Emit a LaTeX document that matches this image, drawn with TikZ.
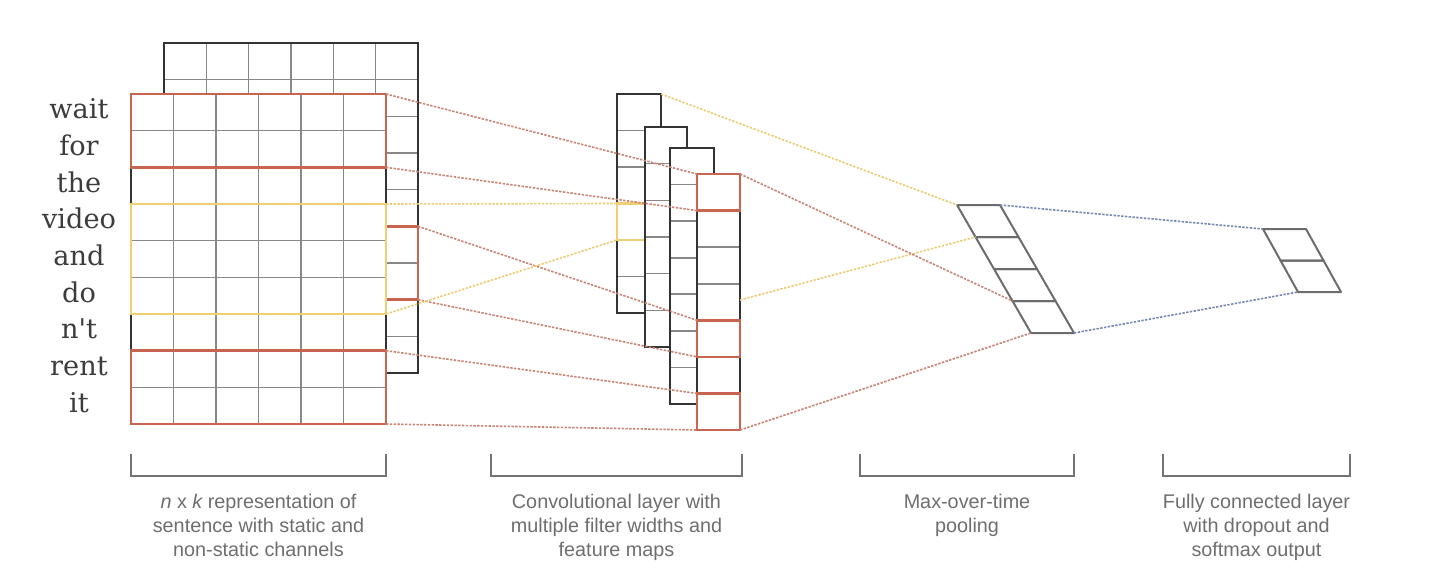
\documentclass[tikz,border=0pt]{standalone}
\usepackage{fontspec}
\setmainfont{Liberation Sans}
\newfontfamily\wordfont{DejaVu Serif}
\definecolor{gridgray}{HTML}{888888}
\definecolor{framedark}{HTML}{333333}
\definecolor{boxred}{HTML}{C8654E}
\definecolor{boxyellow}{HTML}{F0CE72}
\definecolor{linkred}{HTML}{C98574}
\definecolor{linkyellow}{HTML}{EDCC78}
\definecolor{linkblue}{HTML}{7587B2}
\definecolor{labelgray}{HTML}{6E6E6E}
\definecolor{wordgray}{HTML}{3C3C3C}
\begin{document}
\begin{tikzpicture}[x=0.5pt,y=-0.5pt,
  gridline/.style={draw=gridgray,line width=0.8pt},
  frame/.style={draw=framedark,line width=1pt},
  redbox/.style={draw=boxred,line width=1.3pt},
  yellowbox/.style={draw=boxyellow,line width=1.3pt},
  link/.style={line width=0.8pt,dash pattern=on 1.2pt off 0.7pt},
  redlink/.style={link,draw=linkred},
  yellowlink/.style={link,draw=linkyellow},
  bluelink/.style={link,draw=linkblue},
  poolbox/.style={draw=gray!85!black,line width=1pt,line join=round},
  bracket/.style={draw=gray!90!black,line width=1pt},
  caption/.style={text=labelgray,align=center,anchor=north,inner sep=0pt,
    font=\fontsize{9.9}{11.9}\selectfont},
  word/.style={text=wordgray,anchor=base,inner sep=0pt,
    font=\wordfont\fontsize{13.6}{14}\selectfont}]
\useasboundingbox (0,0) rectangle (1446,578);

% ---- static channel (back sheet) ----
\fill[white] (164,43) rectangle (418,373);
\foreach \i in {1,...,8} \draw[gridline] (164,{43+\i*36.667}) -- (418,{43+\i*36.667});
\foreach \j in {1,...,5} \draw[gridline] ({164+\j*42.33},43) -- ({164+\j*42.33},373);
\draw[frame] (164,43) rectangle (418,373);
\draw[redbox] (386,226.33) rectangle (418,299.67);

% ---- non-static channel (front sheet) ----
\fill[white] (131,94) rectangle (386,424);
\foreach \i in {1,...,8} \draw[gridline] (131,{94+\i*36.667}) -- (386,{94+\i*36.667});
\foreach \j in {1,...,5} \draw[gridline] ({131+\j*42.5},94) -- ({131+\j*42.5},424);
\draw[frame] (131,94) rectangle (386,424);
\draw[redbox] (131,94) rectangle (386,167.33);
\draw[yellowbox] (131,204) rectangle (386,314);
\draw[redbox] (131,350.67) rectangle (386,424);

% words of the sentence
\foreach \w [count=\r from 0] in {wait,for,the,video,and,do,n't,rent,it}
  \node[word] (w\r) at (79,{94+(\r+0.5)*36.667+6.5}) {\w};

% ---- feature maps ----
% map 1
\fill[white] (617,94) rectangle (661,313);
\foreach \i in {1,...,5} \draw[gridline] (617,{94+\i*36.5}) -- (661,{94+\i*36.5});
\draw[frame] (617,94) rectangle (661,313);
\draw[yellowbox] (617,203.5) rectangle (661,240);
% map 2
\fill[white] (645,127) rectangle (687,347);
\foreach \i in {1,...,5} \draw[gridline] (645,{127+\i*36.667}) -- (687,{127+\i*36.667});
\draw[frame] (645,127) rectangle (687,347);
% map 3
\fill[white] (670,148) rectangle (714,404);
\foreach \i in {1,...,6} \draw[gridline] (670,{148+\i*36.57}) -- (714,{148+\i*36.57});
\draw[frame] (670,148) rectangle (714,404);
% map 4
\fill[white] (697,174) rectangle (740,430);
\foreach \i in {1,...,6} \draw[gridline] (697,{174+\i*36.57}) -- (740,{174+\i*36.57});
\draw[frame] (697,174) rectangle (740,430);
\draw[redbox] (697,174) rectangle (740,210.57);
\draw[redbox] (697,320.29) rectangle (740,356.86);
\draw[redbox] (697,393.43) rectangle (740,430);

% ---- max-over-time pooling ----
\foreach \k in {0,...,3}
  \draw[poolbox] ({957+18.5*\k},{205+32*\k}) -- ({1000+18.5*\k},{205+32*\k})
    -- ({1018.5+18.5*\k},{237+32*\k}) -- ({975.5+18.5*\k},{237+32*\k}) -- cycle;

% ---- fully connected output ----
\foreach \k in {0,1}
  \draw[poolbox] ({1263+17.5*\k},{229+31.5*\k}) -- ({1306+17.5*\k},{229+31.5*\k})
    -- ({1323.5+17.5*\k},{260.5+31.5*\k}) -- ({1280.5+17.5*\k},{260.5+31.5*\k}) -- cycle;

% ---- connector end points ----
\coordinate (fa) at (386,94);     \coordinate (fb) at (386,167.33);
\coordinate (fc) at (386,350.67); \coordinate (fd) at (386,424);
\coordinate (fy1) at (386,204);   \coordinate (fy2) at (386,314);
\coordinate (ba) at (418,226.33); \coordinate (bb) at (418,299.67);
\coordinate (m1a) at (617,203.5); \coordinate (m1b) at (617,240);
\coordinate (m1t) at (661,94);
\coordinate (m4a) at (697,174);   \coordinate (m4b) at (697,210.57);
\coordinate (m4c) at (697,320.29);\coordinate (m4d) at (697,356.86);
\coordinate (m4e) at (697,393.43);\coordinate (m4f) at (697,430);
\coordinate (m4r1) at (740,174);  \coordinate (m4r2) at (740,430);
\coordinate (m4y) at (740,300);
\coordinate (p1) at (957,205);    \coordinate (p2) at (975.5,237);
\coordinate (p4) at (1012.5,301); \coordinate (p5) at (1031,333);
\coordinate (pr1) at (1000,205);  \coordinate (pr5) at (1074,333);
\coordinate (o1) at (1263,229);   \coordinate (o3) at (1298,292);

% ---- connectors ----
\draw[redlink] (fa) -- (m4a);
\draw[redlink] (fb) -- (m4b);
\draw[redlink] (ba) -- (m4c);
\draw[redlink] (bb) -- (m4d);
\draw[redlink] (fc) -- (m4e);
\draw[redlink] (fd) -- (m4f);
\draw[yellowlink] (fy1) -- (m1a);
\draw[yellowlink] (fy2) -- (m1b);
\draw[yellowlink] (m1t) -- (p1);
\draw[yellowlink] (m4y) -- (p2);
\draw[redlink] (m4r1) -- (p4);
\draw[redlink] (m4r2) -- (p5);
\draw[bluelink] (pr1) -- (o1);
\draw[bluelink] (pr5) -- (o3);

% ---- brackets and captions ----
\draw[bracket] (131,454) -- (131,476) -- (386,476) -- (386,454);
\draw[bracket] (491,454) -- (491,476) -- (742,476) -- (742,454);
\draw[bracket] (860,454) -- (860,476) -- (1074,476) -- (1074,454);
\draw[bracket] (1163,454) -- (1163,476) -- (1350,476) -- (1350,454);

\node[caption] (c1) at (258.5,494) {{\itshape n} x {\itshape k} representation of\\sentence with static and\\non-static channels};
\node[caption] (c2) at (616.5,494) {Convolutional layer with\\multiple filter widths and\\feature maps};
\node[caption] (c3) at (967,494) {Max-over-time\\pooling};
\node[caption] (c4) at (1256.5,494) {Fully connected layer\\with dropout and\\softmax output};
\end{tikzpicture}
\end{document}
